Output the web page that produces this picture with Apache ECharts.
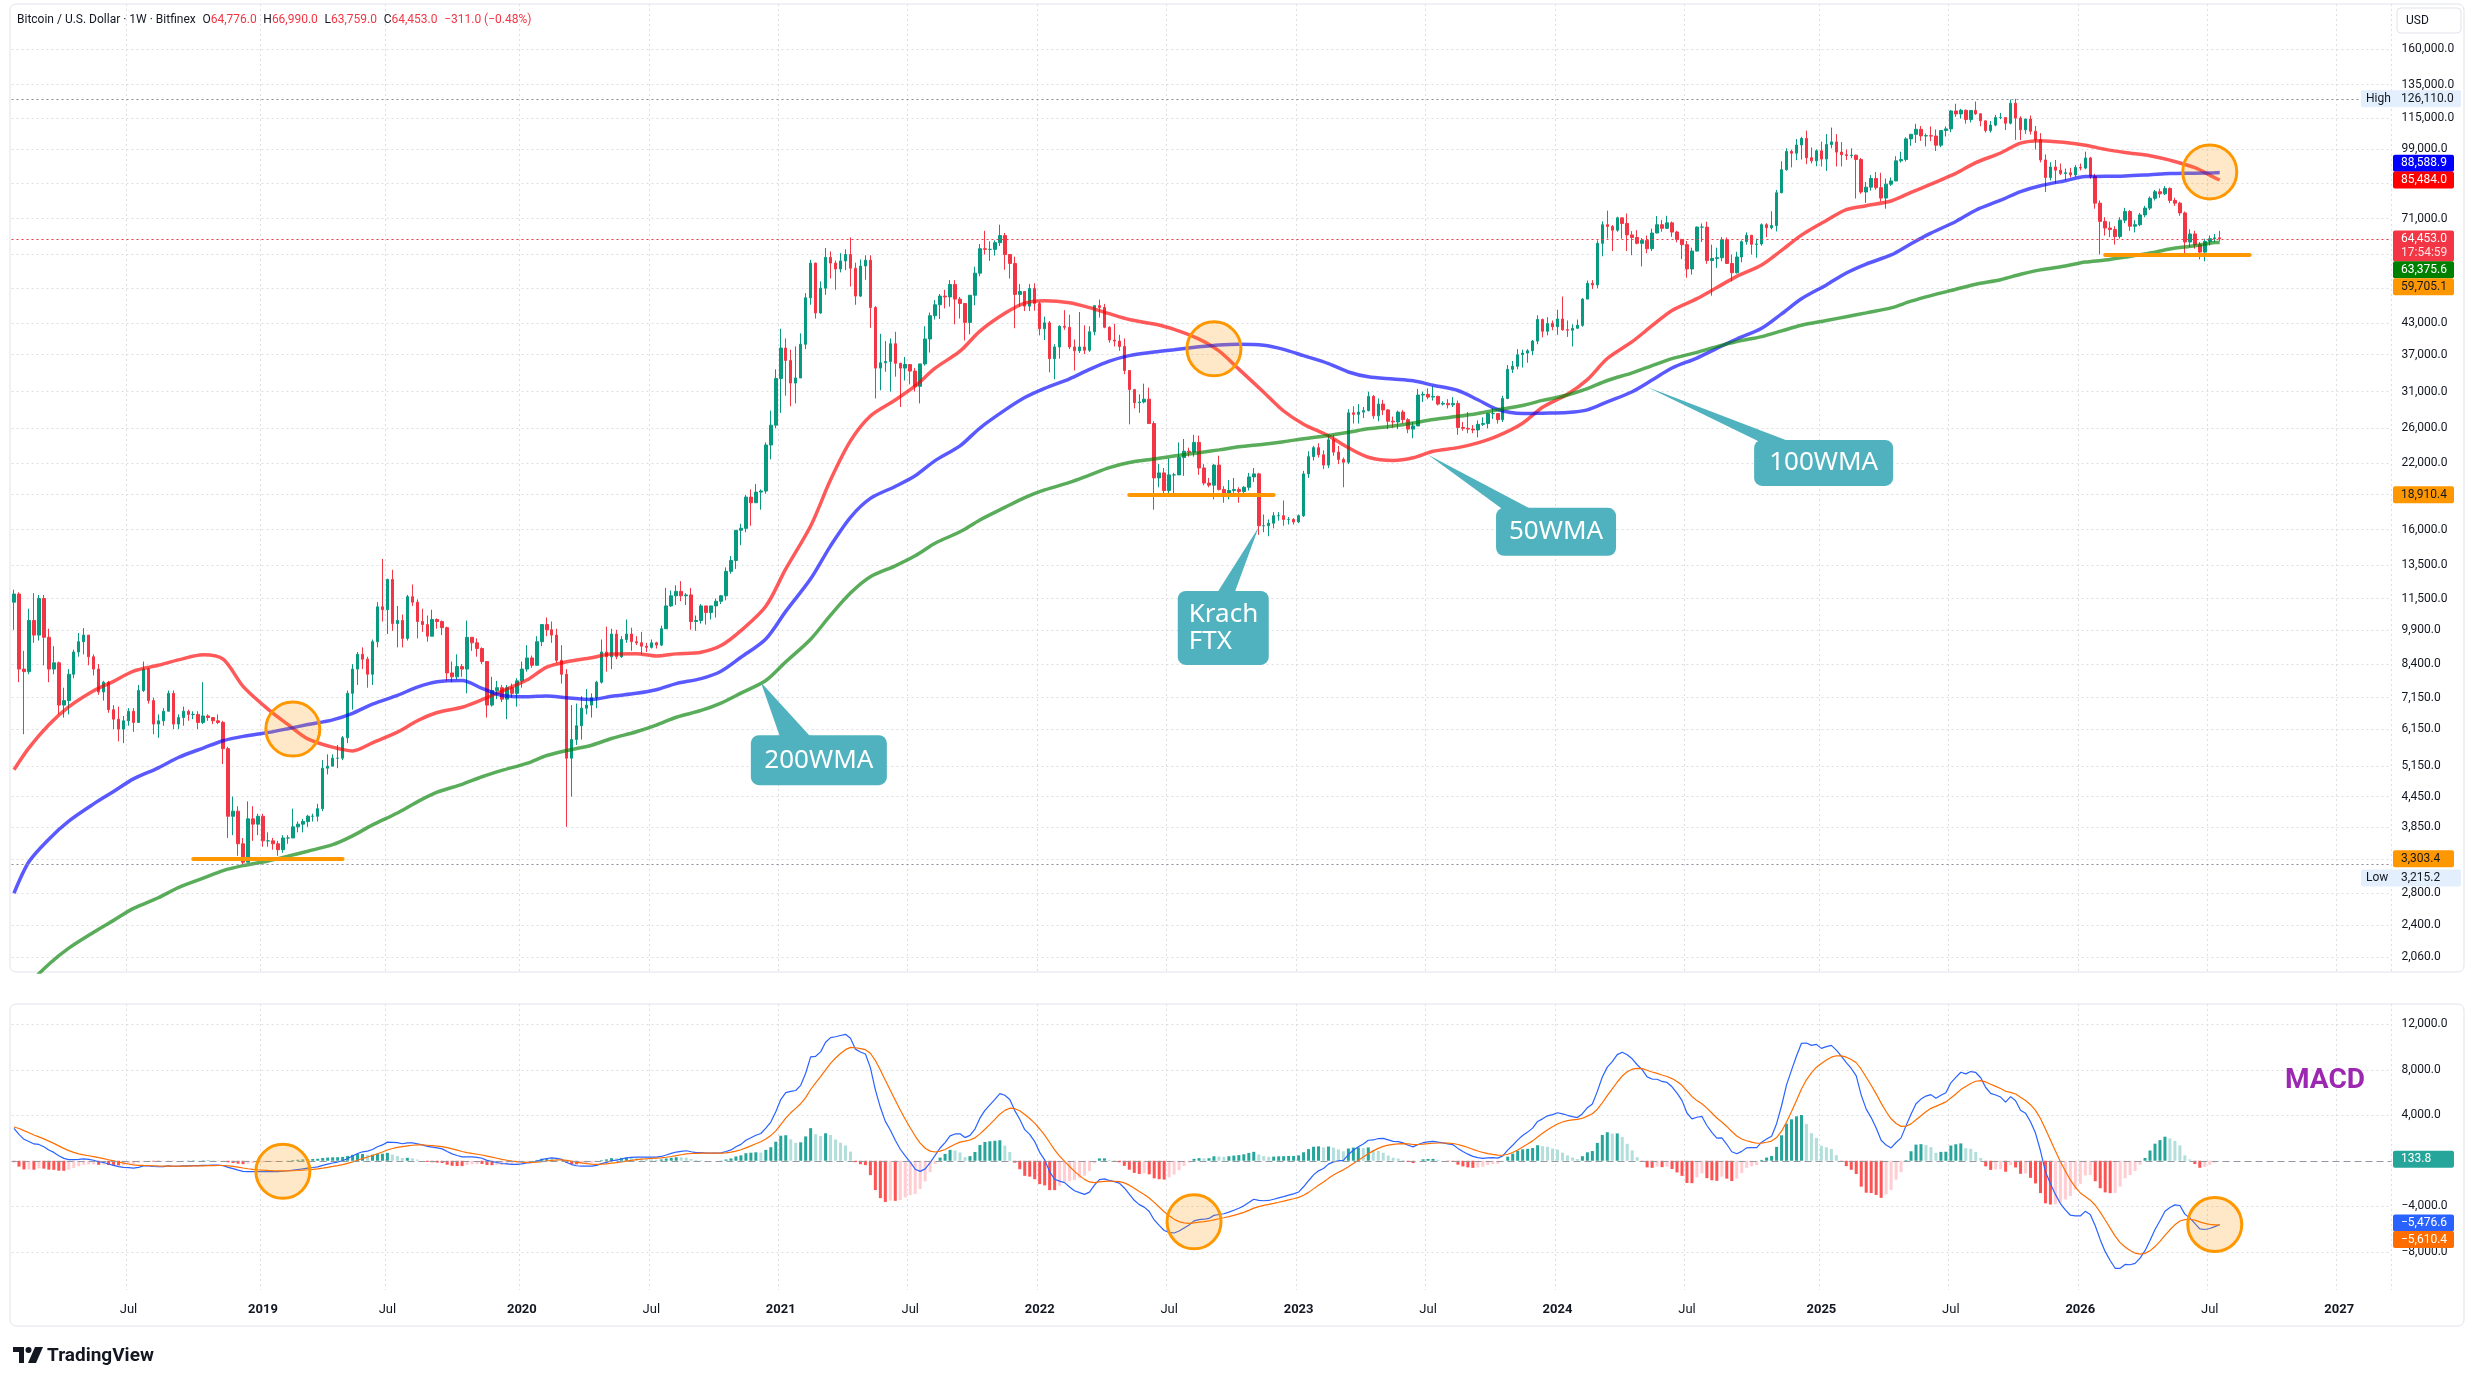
<!DOCTYPE html>
<html>
<head>
<meta charset="utf-8">
<title>Bitcoin / U.S. Dollar · 1W · Bitfinex</title>
<script src="https://cdn.jsdelivr.net/npm/echarts@6/dist/echarts.min.js"></script>
<style>
  html, body { margin: 0; padding: 0; background: #ffffff; }
  #chart { width: 2475px; height: 1385px; }
</style>
</head>
<body>
<div id="chart"></div>
<script>
// weekly bars, first bar = week starting 2018-01-22, axis runs on into 2027
var firstWeek = '2018-01-22';
var weeksOnAxis = 478;
var firstOpen = 11300;

// weekly closes (open of a bar = close of the bar before)
var closes = [
  // 2018
  11750,8200,8100,10350,9650,11500,9550,8200,8450,6900,
  7050,8000,8900,9350,9650,8700,8200,7350,7700,6750,
  6450,6150,6400,6700,6350,7400,8200,7050,6300,6400,
  6700,7300,6300,6500,6700,6600,6600,6350,6550,6500,
  6400,6350,5600,4050,4150,3550,3250,4000,3900,4050,
  // 2019
  3600,3600,3550,3450,3650,3650,3850,3900,3950,4050,
  4050,4200,5100,5150,5350,5350,5900,7300,8200,8800,
  8600,8000,9350,11050,10900,12600,10200,10350,9500,11600,
  11300,10300,10150,9600,10400,10300,10000,8050,7900,8300,
  8200,9550,9300,9050,8500,6900,7400,7500,7100,7500,
  7300,
  // 2020
  7750,8200,8650,8350,9350,10150,9900,9650,8550,8000,
  5350,5850,6250,6800,6900,7150,7700,8900,8700,9700,
  8700,9450,9700,9350,9300,9150,9100,9300,9200,9950,
  11100,11650,11900,11650,11700,10300,10350,11100,10750,11100,
  11350,11650,13100,13800,15950,16100,18700,18200,19150,19250,
  24000,26400,33000,
  // 2021
  38200,36000,32300,33100,38900,48600,57400,45200,50900,59000,
  57400,55800,58000,59800,56000,49000,56600,58200,46400,34700,
  35600,35800,39000,35500,34700,35300,34200,31800,35400,39900,
  44600,47000,49000,48800,51800,48300,47300,43200,49200,54700,
  61500,61300,61300,63300,65500,59800,57300,49400,50100,46700,
  50800,47300,
  // 2022
  41900,43100,36300,38400,42400,42200,38400,37700,38400,37800,
  41300,46800,46400,42200,39700,39500,38500,34300,31300,29400,
  29500,29900,26600,20500,21000,19300,20800,20800,22600,23300,
  23200,24300,21500,20000,19800,21800,19400,18800,19300,19400,
  19200,19600,20600,20900,16300,16300,16500,17100,17100,16800,
  16800,16600,
  // 2023
  17100,20900,22700,23700,22900,21800,24600,23200,22400,22100,
  28000,27800,28100,28300,30300,27600,29200,28400,26900,26800,
  28100,27100,25900,26300,30500,30600,30200,30300,29200,29300,
  29100,29300,26100,26000,25900,25800,26500,26600,27900,27900,
  27100,30000,34500,35000,37000,37300,37700,39500,43800,41400,
  43000,42300,
  // 2024
  43900,41700,41600,42000,42600,48300,52100,51700,63100,69000,
  68400,67200,71300,69400,65700,64900,63100,64000,61500,66300,
  69000,67800,69600,66600,64300,62700,55800,60800,68200,68200,
  58100,58700,58900,64200,57300,54800,59100,63600,65600,62800,
  62900,69000,68000,68700,80400,89800,98000,97200,101100,104300,
  95100,93700,
  // 2025
  98300,94500,101300,102600,97700,96500,96100,96300,94300,80700,
  82600,86100,82400,78400,83800,85100,93700,94300,104100,106400,
  109000,105600,105700,105500,101000,108400,109200,119000,117300,119400,
  114200,119300,117400,113500,108300,111200,115300,115300,112200,123500,
  115000,108700,114500,108000,103600,94100,86500,91000,89600,88200,
  88500,87600,90800,
  // 2026
  90500,95000,87000,76500,70100,67900,67400,65200,70500,73500,
  68500,69000,72300,74700,78300,80800,80000,82100,77500,76500,
  73000,63500,66000,62700,60500,63700,64500,64776,64453
];

var highs = [
  12000,11850,8950,10950,11800,11700,11700,9950,9150,8500,
  7500,8200,9000,9750,9980,9650,8800,8400,7750,7750,
  6900,6850,6550,6800,6800,7600,8500,8250,7150,6600,
  6800,7400,7400,6600,6850,6750,6700,6700,7700,6600,
  6500,6600,6400,5650,4450,4250,3650,4350,4250,4100,
  4100,3750,3650,3600,3700,3700,4200,3950,4000,4080,
  4100,4300,5300,5450,5450,5700,5950,7400,8400,8900,
  9100,8700,9450,11300,13900,12650,13200,11100,10650,11700,
  12300,11450,10950,10600,10900,10450,10350,10050,8500,8800,
  8400,10350,9550,9500,9100,8500,7900,7750,7600,7600,
  7650,
  7850,8500,9200,8750,9600,10150,10500,10300,9950,9200,
  8200,6900,6950,7200,7450,7300,7750,9450,10050,9950,
  9900,9600,10400,10000,9600,9800,9300,9450,9350,10100,
  12100,11950,12250,12500,11800,12100,10600,11200,11050,11100,
  11500,11700,13350,14100,15950,16450,18900,19400,19900,19400,
  24300,28300,34500,
  41900,40000,37900,38500,41000,49700,58300,57500,52600,61700,
  60700,58100,60200,61300,64900,57500,58400,59600,59600,46700,
  40900,39500,40000,41300,35600,36600,35100,34700,35400,42400,
  45300,48100,49500,50500,52900,52900,48800,47300,49200,56400,
  62900,67000,63700,64000,69000,66300,59500,59200,51900,50100,
  51900,52100,
  47600,44400,43500,38900,42600,45800,44800,39800,45400,42600,
  42400,46900,48200,47200,42400,42900,40700,40000,34300,31400,
  30600,32200,31600,26900,21900,21500,22500,21000,24300,24700,
  23700,25200,25100,21900,20500,21900,22800,19700,20300,20500,
  19600,19700,21000,21500,21000,17200,16800,17400,17400,18400,
  17000,16900,
  17200,21200,23300,23900,24200,23400,25200,25200,23900,22600,
  28500,28900,29200,28800,31000,30500,30000,29800,28500,27500,
  28300,28400,27300,26800,31400,31000,31500,31800,30400,29600,
  29900,30200,29700,26800,28100,26400,27000,27400,28000,28600,
  27900,30400,35200,35900,38000,37900,38000,39700,44700,44000,
  44300,43600,
  45900,48900,43600,42800,43800,48500,52800,52900,64000,70100,
  73800,68900,71700,71300,72800,66900,67200,64700,65500,67700,
  71900,70600,72000,70100,67000,63300,63800,61800,68400,69400,
  70000,62700,61800,65000,64900,59800,60600,64000,66500,65600,
  64500,69400,69500,73600,81500,93500,99500,98900,104000,105100,
  108300,99900,
  99000,102700,106500,109900,106500,102500,98900,99500,96500,95000,
  84700,87500,88800,88500,86100,86500,95800,97900,104900,106600,
  111900,110700,106800,110500,108900,108500,110500,119500,123200,120200,
  119800,119300,124500,117600,113500,113400,116800,117900,115300,125700,
  126110,116000,114600,116400,110700,107000,96600,93100,94100,92500,
  90300,90600,91800,
  92500,97900,95500,88000,77500,71500,70000,68500,71500,74800,
  74000,70500,73000,75500,79000,81500,82000,83000,82500,78500,
  77000,73500,67500,67000,63500,64500,65500,66000,66990
];

var lows = [
  9900,7700,6000,8000,9300,9400,8350,7700,8000,6600,
  6500,6600,7850,8700,8800,8350,7950,7250,7050,6650,
  6150,5800,5750,6250,6070,6350,7350,6950,6000,5900,
  6250,6700,6150,6150,6250,6400,6450,6150,6300,6400,
  6300,6300,5200,3650,3700,3350,3215,3250,3600,3700,
  3500,3500,3450,3350,3400,3550,3650,3750,3750,3850,
  3950,3950,4150,4950,5150,5100,5300,5750,6750,7600,
  8200,7500,7600,9100,10300,9700,9850,9100,9100,9400,
  11100,9500,9800,9350,9600,9950,9650,7750,7700,7800,
  7900,7300,8950,8700,8400,6500,6850,7100,7000,6450,
  7150,
  6850,7500,8100,8250,8400,9150,9600,9300,8450,7650,
  3850,4450,5700,5850,6600,6500,6800,7650,8100,8200,
  8600,8650,9300,8950,9200,8800,8900,9050,9050,9150,
  10600,11050,11150,11350,11150,9900,9850,10200,10150,10400,
  10500,11200,11400,12950,13250,14850,15800,16300,18200,17600,
  19000,22400,26000,
  28000,30400,28900,29300,33300,38000,47000,44000,45000,49300,
  53300,50500,54900,55500,51300,47000,48800,53000,42100,30000,
  31200,34100,31000,33300,28800,32700,32100,31000,29300,35100,
  37400,43800,43900,46200,46600,42800,44000,39600,40800,46900,
  53900,59800,58000,59500,62300,55600,53300,42000,46600,45600,
  45600,45700,
  40600,39700,34000,32900,36300,41700,38000,34300,37300,37100,
  37500,40600,44200,42000,39200,38500,37700,33700,26500,28600,
  28000,29300,26600,17600,19600,18700,19000,18900,20800,20700,
  22700,22700,20800,19800,19600,18500,19300,18200,18500,19000,
  18200,18900,19300,20100,15600,15800,15500,16100,16700,16300,
  16400,16400,
  16500,17000,20500,22300,22600,21400,21500,22800,21900,19600,
  21900,26600,26600,27300,28200,27200,26900,27700,25900,26100,
  25900,26600,25400,24800,26300,29500,29900,29700,29000,29000,
  28600,28800,25200,25700,25400,25400,24900,26300,26000,27200,
  26600,26800,29900,33900,34500,34800,35600,36900,38900,40200,
  40600,41600,
  40700,41500,40300,38500,41900,42300,48300,50700,50900,59300,
  64600,60800,66700,64500,60800,59600,62800,56500,60200,60800,
  66200,66700,67600,65100,63400,58500,53500,54300,60700,63500,
  57200,49100,56100,57900,57200,52600,54600,57600,62700,59800,
  58900,62400,65000,67500,66800,80200,89400,90800,94000,94300,
  92200,92600,
  91300,91200,89300,99500,91200,91200,94100,94900,78200,80000,
  76600,81200,81600,77100,74500,83100,85000,92900,93400,100700,
  102100,103100,100400,103000,98200,100000,105300,107500,115700,114700,
  112000,112600,116800,110600,107300,107300,110600,114400,108600,111600,
  103600,103500,106700,106300,98900,93000,80700,85300,84000,87500,
  85400,86500,86800,
  89500,90000,86000,74500,59800,65500,65000,62700,64500,69500,
  67000,66500,68500,71500,74000,77500,78500,79500,76500,75500,
  72000,59300,62000,61500,58400,57900,62500,63500,63759
];

// moving averages, one value per month (mid-month), Jan 2018 .. Jul 2026
var ma50 = [
  5060,5620,6280,6840,7390,7730,8120,8350,8570,8780,8600,7550,
  6770,6290,5870,5640,5540,5760,6060,6400,6660,6830,7080,7380,
  7780,8280,8490,8660,8820,8830,8730,8820,8890,9180,9860,11080,
  13250,16280,20320,24480,27590,29780,31850,34680,37630,41430,45120,47380,
  47920,47460,46360,45040,43810,42850,41780,39880,37690,34530,30920,28250,
  26520,25080,23690,22640,22290,22580,23290,23700,24240,25070,26650,28760,
  30620,32840,36330,39390,42520,45740,48400,51050,53860,56860,60980,65630,
  70420,74170,75580,77290,80540,83790,88210,92880,97290,102000,103200,102300,
  101000,99000,97500,96000,94000,90670,86420
];
var ma100 = [
  2800,3256,3629,3957,4298,4561,4844,5109,5368,5617,5817,5939,
  6050,6163,6285,6428,6633,6933,7228,7520,7715,7763,7476,7228,
  7180,7211,7146,7089,7198,7302,7428,7650,7835,8117,8678,9474,
  10813,12639,14804,16974,18587,19678,20709,22270,23900,26039,28365,30130,
  31491,32970,34474,35874,36839,37478,37909,38435,38778,38909,38717,37957,
  36835,35457,34061,33291,32930,32643,31965,31170,29809,28448,27904,27961,
  28048,28404,29517,30987,32757,34709,36413,38139,39896,41983,44983,48365,
  51700,54739,57139,59683,62996,66274,70070,73948,77578,80883,83174,85196,
  86935,86978,87174,87696,88152,88326,88522
];
var ma200 = [
  1611,1808,1992,2153,2324,2459,2604,2741,2877,3010,3122,3197,
  3269,3345,3426,3534,3687,3886,4113,4340,4545,4721,4895,5045,
  5218,5420,5551,5694,5879,6073,6269,6509,6726,6967,7309,7762,
  8488,9462,10616,11803,12760,13453,14114,14992,15832,16758,17797,18655,
  19351,20058,20782,21536,22071,22453,22779,23135,23448,23793,24096,24385,
  24737,25130,25517,25939,26304,26676,27117,27535,27924,28407,29017,29726,
  30509,31439,32696,33913,35117,36309,37424,38459,39402,40350,41470,42600,
  43578,44400,45215,46307,47820,49120,50620,51878,53013,54393,55567,56622,
  57670,58248,59080,60226,61430,62370,63330
];
// last bar values [50WMA, 100WMA, 200WMA]
var maLast = [85484.0, 88588.9, 63375.6];

var macdSeed = [12100, 9000, 3000];

var priceTicks = [2060, 2400, 2800, 3850, 4450, 5150, 6150, 7150, 8400, 9900, 11500, 13500,
  16000, 22000, 26000, 31000, 37000, 43000, 71000, 99000, 115000, 135000, 160000];
var priceGridTicks = priceTicks.concat([3300, 19000, 51000, 60000, 84000]);
var macdTicks = [-8000, -4000, 4000, 8000, 12000];

// horizontal support lines drawn on the chart: [from week, to week, price]
var supports = [[36, 66, 3303.4], [224, 253, 18910.4], [420, 449, 59705.1]];
// highlighted crossings: [week, value]
var circlesPrice = [[56, 6150], [241, 38050], [441, 88870]];
var circlesMacd = [[54, -930], [237, -5370], [442, -5600]];
var highValue = 126110.0, lowValue = 3215.2;
var lastBar = { o: 64776.0, h: 66990.0, l: 63759.0, c: 64453.0, chg: -311.0, pct: -0.48 };
var macdLast = [133.8, -5476.6, -5610.4];

var WEEK = 7 * 864e5;
var t0 = Date.parse(firstWeek + 'T00:00:00Z');
var cats = [];
for (var i = 0; i < weeksOnAxis; i++) {
  cats.push(new Date(t0 + i * WEEK).toISOString().slice(0, 10));
}

function isTimeLabel(i) {
  if (i === 0) return false;
  var m = +cats[i].slice(5, 7), pm = +cats[i - 1].slice(5, 7);
  return m !== pm && (m === 1 || m === 7);
}

function fmt(v) {
  var s = Math.abs(v).toFixed(1).split('.');
  s[0] = s[0].replace(/\B(?=(\d{3})+(?!\d))/g, ',');
  return (v < 0 ? '\u2212' : '') + s.join('.');
}

var candles = closes.map(function (c, i) {
  var o = i === 0 ? firstOpen : closes[i - 1];
  return [o, c, Math.min(lows[i], o, c), Math.max(highs[i], o, c)];
});

function maPoints(vals, last) {
  var pts = vals.map(function (v, k) {
    var t = Date.UTC(2018, k, 15);
    return [Math.max(0, Math.floor((t - t0) / WEEK)), v];
  });
  pts.push([closes.length - 1, last]);
  return pts;
}

// MACD from the closes
var ef = macdSeed[0], es = macdSeed[1], sg = macdSeed[2];
var macd = [], signal = [], hist = [];
closes.forEach(function (c) {
  ef += (2 / 13) * (c - ef);
  es += (2 / 27) * (c - es);
  var m = ef - es;
  sg += (2 / 10) * (m - sg);
  macd.push(m); signal.push(sg); hist.push(m - sg);
});
var histData = hist.map(function (h, i) {
  var p = i ? hist[i - 1] : h;
  var col = h >= 0 ? (h >= p ? '#26a69a' : '#b2dfdb') : (h <= p ? '#ff5252' : '#ffcdd2');
  return { value: h, itemStyle: { color: col } };
});

var gridLine = { color: '#dcdee3', type: [2, 3], width: 1 };
var dotted = { color: '#8a8d96', type: [2, 3], width: 1 };

var chart = echarts.init(document.getElementById('chart'));

var option = {
  animation: false,
  backgroundColor: '#ffffff',
  textStyle: { fontFamily: 'Roboto, "Noto Sans", sans-serif' },
  grid: [
    { left: 11.5, right: 83.5, top: 4, height: 968 },
    { left: 11.5, right: 83.5, top: 1004, height: 286 }
  ],
  xAxis: [
    {
      type: 'category', gridIndex: 0, data: cats, boundaryGap: true,
      axisLine: { show: false }, axisTick: { show: false }, axisLabel: { show: false },
      splitLine: { show: true, interval: function (i) { return isTimeLabel(i); }, lineStyle: gridLine }
    },
    {
      type: 'category', gridIndex: 1, data: cats, boundaryGap: true,
      axisLine: { show: false }, axisTick: { show: false },
      splitLine: { show: true, interval: function (i) { return isTimeLabel(i); }, lineStyle: gridLine },
      axisLabel: {
        interval: function (i) { return isTimeLabel(i); },
        margin: 13,
        formatter: function (v) {
          return v.slice(5, 7) === '01' ? '{y|' + v.slice(0, 4) + '}' : '{m|Jul}';
        },
        rich: {
          y: { fontSize: 13, fontWeight: 'bold', color: '#131722' },
          m: { fontSize: 13, color: '#131722' }
        }
      }
    }
  ],
  yAxis: [
    {
      type: 'log', logBase: 10, gridIndex: 0, position: 'right', min: 1920, max: 198700,
      axisLine: { show: false },
      axisTick: { show: false, customValues: priceGridTicks },
      axisLabel: { customValues: priceTicks, formatter: fmt, color: '#131722', fontSize: 12, margin: 10 },
      splitLine: { show: true, lineStyle: gridLine }
    },
    {
      type: 'value', gridIndex: 1, position: 'right', min: -11360, max: 13780,
      axisLine: { show: false },
      axisTick: { show: false, customValues: macdTicks },
      axisLabel: { customValues: macdTicks, formatter: fmt, color: '#131722', fontSize: 12, margin: 10 },
      splitLine: { show: true, lineStyle: gridLine }
    }
  ],
  series: [
    {
      name: 'BTCUSD', type: 'candlestick', xAxisIndex: 0, yAxisIndex: 0, data: candles,
      barWidth: 3, z: 3,
      itemStyle: { color: '#089981', color0: '#f23645', borderColor: '#089981', borderColor0: '#f23645', borderWidth: 1 },
      markLine: {
        silent: true, symbol: ['none', 'none'], label: { show: false }, animation: false,
        data: [
          { yAxis: highValue, lineStyle: dotted },
          { yAxis: lowValue, lineStyle: dotted },
          { yAxis: lastBar.c, lineStyle: { color: '#f23645', type: [2, 3], width: 1 } }
        ].concat(supports.map(function (s) {
          return [
            { coord: [s[0], s[2]], lineStyle: { color: '#ff9800', width: 4, type: 'solid', cap: 'round' } },
            { coord: [s[1], s[2]] }
          ];
        }))
      }
    },
    {
      name: '50WMA', type: 'line', xAxisIndex: 0, yAxisIndex: 0, data: maPoints(ma50, maLast[0]),
      smooth: 0.3, symbol: 'none', z: 4, lineStyle: { color: 'rgba(255,0,0,0.65)', width: 3.5 }
    },
    {
      name: '100WMA', type: 'line', xAxisIndex: 0, yAxisIndex: 0, data: maPoints(ma100, maLast[1]),
      smooth: 0.3, symbol: 'none', z: 4, lineStyle: { color: 'rgba(0,0,255,0.65)', width: 3.5 }
    },
    {
      name: '200WMA', type: 'line', xAxisIndex: 0, yAxisIndex: 0, data: maPoints(ma200, maLast[2]),
      smooth: 0.3, symbol: 'none', z: 4, lineStyle: { color: 'rgba(0,128,0,0.65)', width: 3.5 }
    },
    {
      name: 'cross', type: 'scatter', xAxisIndex: 0, yAxisIndex: 0, data: circlesPrice,
      symbolSize: 54, z: 6, silent: true,
      itemStyle: { color: 'rgba(255,152,0,0.22)', borderColor: '#ff9800', borderWidth: 3, opacity: 1 }
    },
    {
      name: 'Histogram', type: 'bar', xAxisIndex: 1, yAxisIndex: 1, data: histData, barWidth: 3, z: 2,
      markLine: {
        silent: true, symbol: ['none', 'none'], label: { show: false },
        data: [{ yAxis: 0, lineStyle: { color: '#9598a1', type: [7, 4], width: 1 } }]
      }
    },
    {
      name: 'MACD', type: 'line', xAxisIndex: 1, yAxisIndex: 1, data: macd,
      symbol: 'none', z: 4, lineStyle: { color: '#2962ff', width: 1.2 }
    },
    {
      name: 'Signal', type: 'line', xAxisIndex: 1, yAxisIndex: 1, data: signal,
      symbol: 'none', z: 4, lineStyle: { color: '#ff6d00', width: 1.2 }
    },
    {
      name: 'crossMacd', type: 'scatter', xAxisIndex: 1, yAxisIndex: 1, data: circlesMacd,
      symbolSize: 54, z: 6, silent: true,
      itemStyle: { color: 'rgba(255,152,0,0.22)', borderColor: '#ff9800', borderWidth: 3, opacity: 1 }
    }
  ]
};

chart.setOption(option);

// ---- overlays placed with the chart's own scales ----
var g = [];
var AX = 2393;

function tag(y, text, bg, fg, sub) {
  var h = sub ? 31 : 17;
  g.push({ type: 'rect', z: 100, shape: { x: AX, y: y - 8.5, width: 61, height: h, r: 2 }, style: { fill: bg } });
  g.push({ type: 'text', z: 101, style: { x: AX + 8, y: y, text: text, fill: fg, font: '12px Roboto',
    textVerticalAlign: 'middle', verticalAlign: 'middle' } });
  if (sub) {
    g.push({ type: 'text', z: 101, style: { x: AX + 8, y: y + 14, text: sub, fill: fg, font: '12px Roboto',
      textVerticalAlign: 'middle', verticalAlign: 'middle', opacity: 0.85 } });
  }
}
function hiLo(y, word, value) {
  g.push({ type: 'rect', z: 100, shape: { x: 2361, y: y - 8.5, width: 100, height: 17, r: 2 }, style: { fill: '#e3effd' } });
  g.push({ type: 'text', z: 101, style: { x: 2366, y: y, text: word, fill: '#131722', font: '12px Roboto',
    textVerticalAlign: 'middle', verticalAlign: 'middle' } });
  g.push({ type: 'text', z: 101, style: { x: AX + 8, y: y, text: fmt(value), fill: '#131722', font: '12px Roboto',
    textVerticalAlign: 'middle', verticalAlign: 'middle' } });
}
function py(axis, v) { return chart.convertToPixel({ yAxisIndex: axis }, v); }

// price scale tags
hiLo(py(0, highValue), 'High', highValue);
hiLo(py(0, lowValue) + 13.6, 'Low', lowValue);
tag(py(0, maLast[1]) - 9.3, fmt(maLast[1]), '#0000ff', '#ffffff');
tag(py(0, maLast[0]), fmt(maLast[0]), '#ff0000', '#ffffff');
tag(py(0, lastBar.c), fmt(lastBar.c), '#f23645', '#ffffff', '17:54:59');
tag(py(0, maLast[2]) + 27.4, fmt(maLast[2]), '#008000', '#ffffff');
tag(py(0, supports[2][2]) + 32, fmt(supports[2][2]), '#ff9800', '#131722');
tag(py(0, supports[1][2]), fmt(supports[1][2]), '#ff9800', '#131722');
tag(py(0, supports[0][2]), fmt(supports[0][2]), '#ff9800', '#131722');
// MACD scale tags
tag(py(1, macdLast[0]), fmt(macdLast[0]), '#26a69a', '#ffffff');
tag(py(1, macdLast[1]), fmt(macdLast[1]), '#2962ff', '#ffffff');
tag(py(1, macdLast[2]) + 15, fmt(macdLast[2]), '#ff6d00', '#ffffff');

// callouts: tip in data space, box offset from the tip in pixels
var callouts = [
  { text: '200WMA', at: [150, 7700], box: [-10, 53, 136, 50], base: [30, 62], align: 'center' },
  { text: 'Krach\nFTX', at: [250, 16210], box: [-81, 64, 91, 74], base: [38, 56], align: 'left' },
  { text: '50WMA', at: [284, 22900], box: [68, 53, 120, 48], base: [10, 40], align: 'center' },
  { text: '100WMA', at: [328, 31700], box: [107, 53, 139, 46], base: [10, 42], align: 'center' }
];
callouts.forEach(function (c) {
  var tip = chart.convertToPixel({ gridIndex: 0 }, c.at);
  var bx = tip[0] + c.box[0], by = tip[1] + c.box[1], bw = c.box[2], bh = c.box[3];
  var fill = '#4fb2be';
  g.push({ type: 'polygon', z: 50, shape: { points: [tip, [bx + c.base[0], by + 4], [bx + c.base[1], by + 4]] }, style: { fill: fill } });
  g.push({ type: 'rect', z: 50, shape: { x: bx, y: by, width: bw, height: bh, r: 8 }, style: { fill: fill } });
  g.push({ type: 'text', z: 51, style: {
    x: c.align === 'center' ? bx + bw / 2 : bx + 11, y: by + bh / 2, text: c.text, fill: '#ffffff',
    font: '26px "Noto Sans", sans-serif', lineHeight: 27,
    textAlign: c.align, align: c.align, textVerticalAlign: 'middle', verticalAlign: 'middle' } });
});

// pane frames, header, logo, legend word
g.push({ type: 'rect', z: -1, silent: true, shape: { x: 10, y: 4, width: 2454, height: 968, r: 6 }, style: { fill: 'none', stroke: '#e0e3eb', lineWidth: 1 } });
g.push({ type: 'rect', z: -1, silent: true, shape: { x: 10, y: 1004, width: 2454, height: 322, r: 6 }, style: { fill: 'none', stroke: '#e0e3eb', lineWidth: 1 } });
g.push({ type: 'rect', z: 100, shape: { x: 2397, y: 8, width: 64, height: 25, r: 4 }, style: { fill: '#ffffff', stroke: '#e0e3eb', lineWidth: 1 } });
g.push({ type: 'text', z: 101, style: { x: 2406, y: 20.5, text: 'USD', fill: '#131722', font: '12px Roboto', textVerticalAlign: 'middle', verticalAlign: 'middle' } });

var sign = lastBar.chg < 0 ? '\u2212' : '+';
g.push({ type: 'text', z: 101, style: {
  x: 17, y: 19.5, textVerticalAlign: 'middle', verticalAlign: 'middle',
  text: '{a|Bitcoin / U.S. Dollar \u00b7 1W \u00b7 Bitfinex}  {a|O}{v|' + fmt(lastBar.o) + '}  {a|H}{v|' + fmt(lastBar.h) +
    '}  {a|L}{v|' + fmt(lastBar.l) + '}  {a|C}{v|' + fmt(lastBar.c) + '}  {v|' + sign + fmt(Math.abs(lastBar.chg)) +
    ' (' + sign + Math.abs(lastBar.pct).toFixed(2) + '%)}',
  rich: {
    a: { fill: '#131722', font: '12px Roboto' },
    v: { fill: '#f23645', font: '12px Roboto' }
  }
} });

g.push({ type: 'text', z: 101, style: { x: 2325, y: 1081, text: 'MACD', fill: '#9c27b0', font: 'bold 28px Roboto',
  textAlign: 'center', align: 'center', textVerticalAlign: 'middle', verticalAlign: 'middle' } });

// TradingView mark
g.push({ type: 'polygon', z: 101, shape: { points: [[13, 1347], [24, 1347], [24, 1363], [19, 1363], [19, 1352], [13, 1352]] }, style: { fill: '#131722' } });
g.push({ type: 'circle', z: 101, shape: { cx: 28.5, cy: 1350, r: 3 }, style: { fill: '#131722' } });
g.push({ type: 'polygon', z: 101, shape: { points: [[35, 1347], [43, 1347], [36, 1363], [28, 1363]] }, style: { fill: '#131722' } });
g.push({ type: 'text', z: 101, style: { x: 47, y: 1356, text: 'TradingView', fill: '#131722', font: 'bold 19px Roboto',
  textVerticalAlign: 'middle', verticalAlign: 'middle' } });

chart.setOption({ graphic: g });
</script>
</body>
</html>
